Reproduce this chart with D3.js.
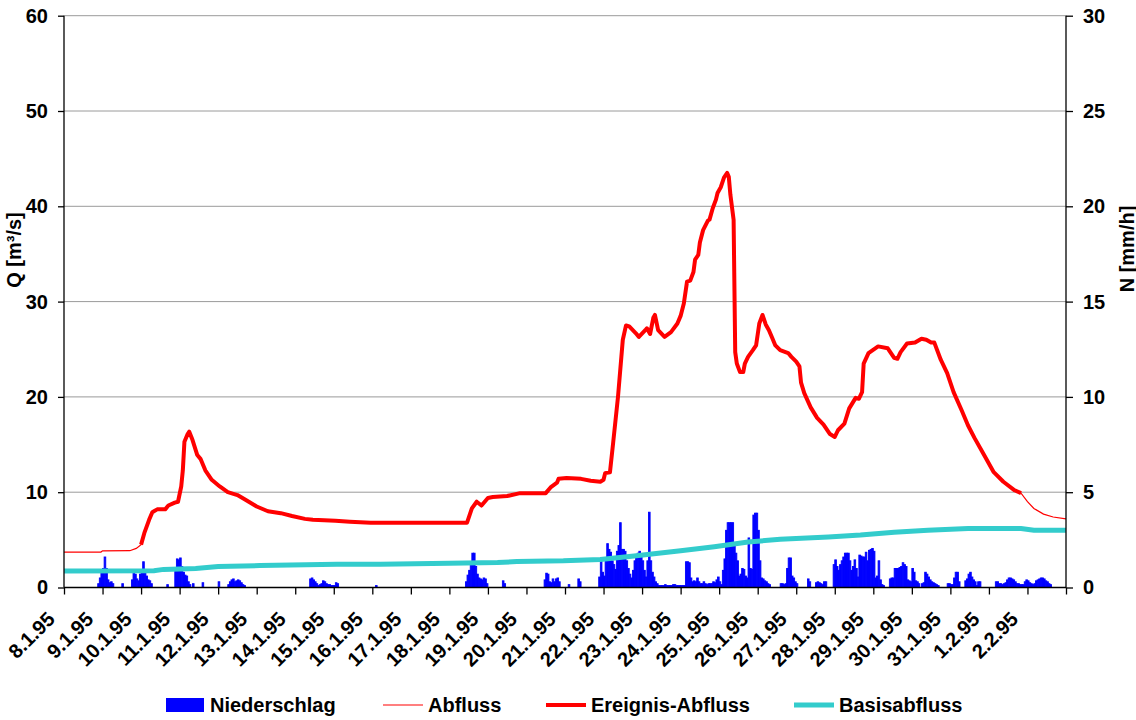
<!DOCTYPE html>
<html>
<head>
<meta charset="utf-8">
<script src="https://cdn.jsdelivr.net/npm/d3@7"></script>
<style>
	body { margin: 0; background: #fff; }
	svg text { font-family: "Liberation Sans", Arial, sans-serif; font-weight: bold; fill: #000; }
</style>
</head>
<body>
<svg id="chart" width="1136" height="720"></svg>
<script>

// day labels, one per 24 h starting 8.1.95 00:00
const dayLabels = ['8.1.95', '9.1.95', '10.1.95', '11.1.95', '12.1.95', '13.1.95', '14.1.95',
	'15.1.95', '16.1.95', '17.1.95', '18.1.95', '19.1.95', '20.1.95', '21.1.95', '22.1.95',
	'23.1.95', '24.1.95', '25.1.95', '26.1.95', '27.1.95', '28.1.95', '29.1.95', '30.1.95',
	'31.1.95', '1.2.95', '2.2.95'];

const qTicks = [0, 10, 20, 30, 40, 50, 60];
const nTicks = [0, 5, 10, 15, 20, 25, 30];

// Abfluss [m3/s], read at these hours
const flowHours = [0, 23, 24, 41, 45, 48, 50, 53, 55, 58, 63, 65, 69, 71, 73, 74, 75, 77, 78, 80, 83, 85, 88, 92, 97,
	102, 108, 113, 120, 127, 135, 142, 150, 155, 169, 178, 191, 251, 254, 257, 260, 264, 267, 276, 284,
	300, 303, 307, 308, 313, 322, 328, 334, 336, 337, 340, 342, 345, 348, 350, 352, 356, 358, 362, 363,
	365, 367, 368, 370, 374, 378, 382, 384, 386, 388, 390, 392, 393, 395, 396, 398, 401, 402, 404, 406,
	407, 409, 411, 413, 414, 415, 417, 418, 419, 421, 423, 424, 426, 429, 431, 433, 435, 437, 439, 441,
	443, 446, 451, 453, 456, 458, 459, 461, 465, 469, 473, 477, 480, 482, 486, 489, 493, 495, 497, 498,
	501, 507, 513, 517, 519, 521, 525, 530, 534, 537, 540, 542, 546, 550, 554, 559, 563, 567, 573, 579,
	585, 592, 596, 600, 604, 610, 616, 624];
const flowValues = [3.72, 3.72, 3.85, 3.86, 4.1, 4.5, 5.7, 7.1, 7.9, 8.2, 8.2, 8.6, 8.9, 9.0, 10.6, 12.3, 15.3, 16.1, 16.35, 15.5, 13.9, 13.5, 12.3, 11.3, 10.6,
	10.0, 9.7, 9.2, 8.5, 8.0, 7.8, 7.5, 7.2, 7.1, 7.0, 6.9, 6.8, 6.8, 8.3, 9.0, 8.6, 9.4, 9.5, 9.6, 9.9,
	9.9, 10.5, 11.0, 11.4, 11.5, 11.4, 11.2, 11.1, 11.3, 12.0, 12.1, 15.2, 20.0, 26.0, 27.5, 27.4, 26.7, 26.3, 27.0, 27.2,
	26.6, 28.3, 28.6, 27.0, 26.3, 26.8, 27.7, 28.5, 29.8, 32.1, 32.2, 33.1, 34.4, 34.9, 36.2, 37.5, 38.5, 38.6, 39.8, 40.7,
	41.4, 42.0, 43.0, 43.5, 43.1, 41.2, 38.6, 24.7, 23.5, 22.6, 22.6, 23.5, 24.2, 24.9, 25.4, 27.7, 28.6, 27.6, 27.0, 26.2,
	25.4, 24.9, 24.6, 24.2, 23.7, 23.2, 21.5, 20.4, 18.9, 17.8, 17.1, 16.1, 15.8, 16.5, 17.2, 18.8, 19.9, 19.8, 20.5, 23.5,
	24.6, 25.3, 25.1, 24.1, 24.0, 24.7, 25.6, 25.7, 26.1, 26.0, 25.7, 25.7, 23.9, 22.5, 20.5, 18.6, 17.0, 15.7, 13.9, 12.1,
	11.1, 10.2, 9.9, 9.0, 8.3, 7.7, 7.4, 7.2];

// Ereignis-Abfluss = Abfluss between these hours
const eventRange = [48, 596];

// Basisabfluss [m3/s]
const baseHours = [0, 56, 62, 82, 96, 122, 170, 197, 240, 270, 282, 311, 334, 355, 384, 405, 426, 446, 476, 496, 517, 538, 563, 596, 604, 624];
const baseValues = [1.73, 1.76, 1.9, 2.0, 2.2, 2.3, 2.43, 2.45, 2.55, 2.62, 2.72, 2.8, 2.95, 3.3, 3.86, 4.28, 4.77, 5.06, 5.3, 5.5, 5.8, 6.0, 6.2, 6.2, 6.0, 6.0];

// Niederschlag [mm/h]: [first hour, hourly values]
const rainEvents = [
	[21, [0.2, 0.5, 0.9, 1.0, 1.6, 1.0, 0.4, 0.25, 0.3, 0.2]],
	[36, [0.2]],
	[42, [0.4, 0.75, 0.7, 0.45, 0.35, 0.7, 0.9, 1.35, 0.9, 0.6, 0.4, 0.35, 0.2]],
	[64, [0.15]],
	[69, [0.9, 1.5, 1.45, 1.55, 1.1, 0.8, 0.65, 0.6, 0.3, 0.15]],
	[80, [0.2]],
	[86, [0.25]],
	[96, [0.3]],
	[102, [0.15, 0.3, 0.4, 0.45, 0.3, 0.35, 0.4, 0.35, 0.25, 0.15, 0.1]],
	[153, [0.45, 0.5, 0.4, 0.3, 0.2, 0.1, 0.15, 0.2, 0.35, 0.3, 0.2, 0.15, 0.15, 0.1, 0.1, 0.1, 0.25, 0.2]],
	[194, [0.1]],
	[250, [0.3, 0.65, 0.9, 1.25, 1.8, 1.8, 1.1, 0.7, 0.5, 0.45, 0.4, 0.5, 0.45, 0.2]],
	[273, [0.35, 0.2]],
	[299, [0.4, 0.75, 0.7, 0.3, 0.25, 0.45, 0.3, 0.45, 0.5, 0.3]],
	[314, [0.15]],
	[320, [0.45, 0.3]],
	[333, [0.55, 1.45, 0.8, 0.6, 1.5, 2.3, 2.0, 1.85, 1.4, 1.2, 0.95, 1.9, 2.2, 3.4, 2.0, 2.0, 1.9, 1.4, 1.0, 0.7,
		0.5, 0.9, 1.4, 1.6, 1.8, 1.9, 1.6, 1.4, 0.9, 0.55, 1.4, 3.95, 1.4, 0.8, 0.55, 0.3, 0.2]],
	[370, [0.1, 0.1, 0.1, 0.1, 0.15, 0.1, 0.1, 0.1, 0.1, 0.15, 0.15, 0.1, 0.1, 0.1, 0.1, 0.1, 0.1,
		1.35, 1.35, 1.3, 0.5, 0.3, 0.35, 0.3, 0.5, 0.3, 0.2, 0.2, 0.3, 0.2, 0.15, 0.2, 0.2, 0.2, 0.3, 0.25, 0.4, 0.55, 0.3, 0.15]],
	[410, [0.9, 1.5, 3.0, 3.4, 3.4, 3.4, 3.4, 2.3, 1.8, 1.4, 0.6, 0.7, 1.0, 0.95, 0.6, 0.5, 2.6, 1.0, 0.95, 3.8,
		3.9, 3.9, 3.0, 1.4, 0.5, 0.45, 0.35, 0.3, 0.2, 0.15]],
	[446, [0.2, 0.2, 0.15, 0.2, 1.0, 1.55, 1.55, 0.6, 0.5, 0.3, 0.2]],
	[463, [0.45, 0.3]],
	[468, [0.25, 0.3, 0.25, 0.2, 0.15, 0.3, 0.3]],
	[479, [1.2, 1.45, 1.1, 0.9, 1.2, 1.4, 1.6, 1.8, 1.8, 1.8, 1.4, 0.9, 1.1, 1.45, 1.0, 0.55, 1.7, 1.65, 1.6, 1.6,
		1.85, 1.4, 1.95, 2.0, 2.05, 1.9, 0.5, 0.6, 1.4, 0.4, 0.15, 0.1]],
	[514, [0.45, 0.5, 0.5, 1.0, 1.0, 1.0, 1.05, 1.1, 1.3, 1.2, 1.1, 0.4, 0.35, 0.3, 1.0, 0.8, 0.35, 0.3, 0.2]],
	[534, [0.2, 0.25, 0.8, 0.7, 0.55, 0.4, 0.3, 0.25, 0.2, 0.15, 0.1]],
	[550, [0.2, 0.2, 0.15, 0.15, 0.5, 0.8, 0.8, 0.3]],
	[561, [0.35, 0.45, 0.7, 0.8, 0.55, 0.4, 0.3, 0.1, 0.3, 0.3]],
	[580, [0.3, 0.3, 0.2, 0.2, 0.15, 0.2, 0.25, 0.4, 0.5, 0.5, 0.45, 0.4, 0.3, 0.2, 0.2, 0.15, 0.15, 0.15, 0.3, 0.4,
		0.35, 0.25, 0.2, 0.15, 0.2, 0.35, 0.4, 0.45, 0.5, 0.5, 0.45, 0.35, 0.3, 0.2, 0.15]]
];

const legendItems = [
	{ name: 'Niederschlag', kind: 'bar' },
	{ name: 'Abfluss', kind: 'thin' },
	{ name: 'Ereignis-Abfluss', kind: 'thick' },
	{ name: 'Basisabfluss', kind: 'base' }
];

const COLORS = {
	bar: '#0000ff',
	thin: '#ff0000',
	thick: '#ff0000',
	base: '#33cccc'
};

const FONT_SIZE = '20px';

let svg = d3.select('#chart'),
	plotLeft = 64, plotRight = 1066,
	plotTop = 15.7, plotBottom = 587.5,
	totalHours = dayLabels.length * 24;

let x = d3.scaleLinear().domain([0, totalHours]).range([plotLeft, plotRight]),
	yQ = d3.scaleLinear().domain([0, 60]).range([plotBottom, plotTop]),
	yN = d3.scaleLinear().domain([0, 30]).range([plotBottom, plotTop]);

// gridlines
svg.append('g')
	.selectAll('line')
	.data(qTicks.filter(d => d > 0))
	.join('line')
	.attr('x1', plotLeft).attr('x2', plotRight)
	.attr('y1', d => yQ(d)).attr('y2', d => yQ(d))
	.attr('stroke', '#9a9a9a')
	.attr('stroke-width', 1);

// rain bars
let rainBars = [];
rainEvents.forEach(ev => {
	ev[1].forEach((v, i) => rainBars.push({ h: ev[0] + i, v: v }));
});

svg.append('g')
	.selectAll('rect')
	.data(rainBars)
	.join('rect')
	.attr('x', d => x(d.h))
	.attr('width', d => x(d.h + 1) - x(d.h))
	.attr('y', d => yN(d.v))
	.attr('height', d => yN(0) - yN(d.v))
	.attr('fill', COLORS.bar)
	.attr('stroke', COLORS.bar)
	.attr('stroke-width', 0.9);

let flow = flowHours.map((h, i) => ({ h: h, v: flowValues[i] })),
	eventFlow = flow.filter(d => d.h >= eventRange[0] && d.h <= eventRange[1]),
	baseFlow = baseHours.map((h, i) => ({ h: h, v: baseValues[i] }));

let line = d3.line()
	.x(d => x(d.h))
	.y(d => yQ(d.v));

svg.append('path')
	.attr('d', line(flow))
	.attr('fill', 'none')
	.attr('stroke', COLORS.thin)
	.attr('stroke-width', 1.2);

svg.append('path')
	.attr('d', line(eventFlow))
	.attr('fill', 'none')
	.attr('stroke', COLORS.thick)
	.attr('stroke-width', 4)
	.attr('stroke-linejoin', 'round');

svg.append('path')
	.attr('d', line(baseFlow))
	.attr('fill', 'none')
	.attr('stroke', COLORS.base)
	.attr('stroke-width', 5);

// axes
let axisL = svg.append('g')
	.attr('transform', 'translate(' + plotLeft + ',0)')
	.call(d3.axisLeft(yQ).tickValues(qTicks).tickSize(6).tickPadding(10));

let axisR = svg.append('g')
	.attr('transform', 'translate(' + plotRight + ',0)')
	.call(d3.axisRight(yN).tickValues(nTicks).tickSize(7).tickPadding(10));

let axisB = svg.append('g')
	.attr('transform', 'translate(0,' + plotBottom + ')')
	.call(d3.axisBottom(x)
		.tickValues(d3.range(0, totalHours + 1, 24))
		.tickSize(7)
		.tickFormat(() => ''));

[axisL, axisR, axisB].forEach(a => {
	a.select('.domain').attr('stroke', '#000').attr('stroke-width', 1.3);
	a.selectAll('.tick line').attr('stroke', '#000').attr('stroke-width', 1.3);
	a.selectAll('text').style('font-size', FONT_SIZE).style('font-family', '"Liberation Sans", Arial, sans-serif');
});
axisL.select('.domain').attr('d', 'M0,' + plotBottom + 'V' + plotTop);
axisR.select('.domain').attr('d', 'M0,' + plotBottom + 'V' + plotTop);
axisB.select('.domain').attr('d', 'M' + plotLeft + ',0H' + plotRight);

// rotated day labels
svg.append('g')
	.selectAll('text')
	.data(dayLabels)
	.join('text')
	.attr('transform', (d, i) => 'translate(' + (x(i * 24) - 8) + ',' + (plotBottom + 33) + ') rotate(-45)')
	.attr('text-anchor', 'end')
	.style('font-size', FONT_SIZE)
	.text(d => d);

// axis titles
svg.append('text')
	.attr('transform', 'translate(20.5,250) rotate(-90)')
	.attr('text-anchor', 'middle')
	.style('font-size', FONT_SIZE)
	.text('Q [m³/s]');

svg.append('text')
	.attr('transform', 'translate(1133.5,249) rotate(-90)')
	.attr('text-anchor', 'middle')
	.style('font-size', FONT_SIZE)
	.text('N [mm/h]');

// legend
let legendX = [166, 383, 546, 794],
	legendY = 705;

let legend = svg.append('g')
	.selectAll('g')
	.data(legendItems)
	.join('g')
	.attr('transform', (d, i) => 'translate(' + legendX[i] + ',' + legendY + ')');

legend.each(function (d) {
	let g = d3.select(this);
	if (d.kind === 'bar') {
		g.append('rect')
			.attr('x', 0).attr('y', -7)
			.attr('width', 38).attr('height', 14)
			.attr('fill', COLORS.bar);
	} else {
		g.append('line')
			.attr('x1', 0).attr('x2', 40)
			.attr('y1', 0).attr('y2', 0)
			.attr('stroke', COLORS[d.kind])
			.attr('stroke-width', d.kind === 'thin' ? 1.2 : d.kind === 'thick' ? 4 : 5);
	}
	g.append('text')
		.attr('x', d.kind === 'bar' ? 44 : 45)
		.attr('y', 7)
		.style('font-size', FONT_SIZE)
		.text(d.name);
});

</script>
</body>
</html>
